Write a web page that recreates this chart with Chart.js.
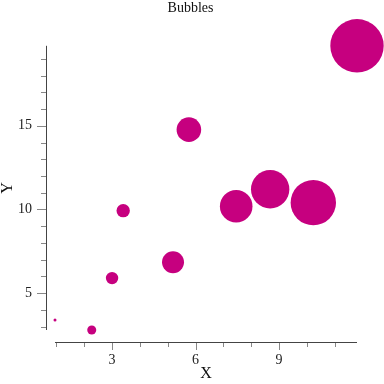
<!DOCTYPE html>
<html>
<head>
<meta charset="utf-8">
<script src="https://cdn.jsdelivr.net/npm/chart.js@4.4.1/dist/chart.umd.min.js"></script>
<style>
  html, body { margin: 0; padding: 0; background: #fff; }
  #box { width: 384px; height: 384px; }
</style>
</head>
<body>
<div id="box"><canvas id="bubbleChart"></canvas></div>
<script>
// data
var xValues = [0.95, 2.27, 3.0, 3.4, 5.19, 5.76, 7.46, 8.68, 10.23, 11.8];
var yValues = [3.39, 2.8, 5.9, 9.93, 6.85, 14.77, 10.19, 11.21, 10.41, 19.78];
var radii   = [1.5, 4.5, 6.2, 6.7, 11, 12.3, 16.3, 19.2, 22.7, 26.7];

// ticks
var xTicks = [1, 2, 3, 4, 5, 6, 7, 8, 9, 10, 11];
var xTickLabels = ['3', '6', '9'];
var yTicks = [3, 4, 5, 6, 7, 8, 9, 10, 11, 12, 13, 14, 15, 16, 17, 18, 19];
var yTickLabels = ['5', '10', '15'];

var chartTitle = 'Bubbles';
var xTitle = 'X';
var yTitle = 'Y';

var magenta = '#c6007f';
var serif = "'Liberation Serif', 'Times New Roman', serif";

// bubble points
var points = [];
for (let i = 0; i < xValues.length; i++) {
  points.push({x: xValues[i], y: yValues[i], r: radii[i]});
}

var xMin = Math.min.apply(null, xValues), xMax = Math.max.apply(null, xValues);
var yMin = Math.min.apply(null, yValues), yMax = Math.max.apply(null, yValues);

// axis lines only span the data, ticks drawn by hand (majors longer)
const axisPlugin = {
  id: 'detachedAxes',
  beforeDatasetsDraw(chart) {
    const ctx = chart.ctx;
    const area = chart.chartArea;
    const xs = chart.scales.x, ys = chart.scales.y;
    ctx.save();
    // tick marks
    ctx.strokeStyle = '#888';
    ctx.lineWidth = 1;
    yTicks.forEach(v => {
      const p = Math.round(ys.getPixelForValue(v)) + 0.5;
      const len = yTickLabels.indexOf(String(v)) >= 0 ? 9 : 5;
      ctx.beginPath();
      ctx.moveTo(area.left - len, p);
      ctx.lineTo(area.left, p);
      ctx.stroke();
    });
    xTicks.forEach(v => {
      const p = Math.round(xs.getPixelForValue(v)) + 0.5;
      const len = xTickLabels.indexOf(String(v)) >= 0 ? 8 : 5;
      ctx.beginPath();
      ctx.moveTo(p, area.bottom);
      ctx.lineTo(p, area.bottom + len);
      ctx.stroke();
    });
    // axis lines
    ctx.strokeStyle = '#444';
    ctx.beginPath();
    ctx.moveTo(area.left + 0.5, ys.getPixelForValue(yMax));
    ctx.lineTo(area.left + 0.5, ys.getPixelForValue(yMin));
    ctx.stroke();
    ctx.beginPath();
    ctx.moveTo(xs.getPixelForValue(xMin), area.bottom + 0.5);
    ctx.lineTo(xs.getPixelForValue(xMax), area.bottom + 0.5);
    ctx.stroke();
    ctx.restore();
  }
};

const ctx = document.getElementById('bubbleChart').getContext('2d');
const myChart = new Chart(ctx, {
  type: 'bubble',
  data: {
    datasets: [{
      data: points,
      backgroundColor: magenta,
      borderWidth: 0,
      hoverBorderWidth: 0,
      clip: false
    }]
  },
  options: {
    responsive: true,
    maintainAspectRatio: false,
    animation: false,
    events: [],
    layout: { autoPadding: false, padding: { left: 15, right: 18, top: 0, bottom: 0 } },
    plugins: {
      legend: { display: false },
      tooltip: { enabled: false },
      title: {
        display: true,
        text: chartTitle,
        color: '#111',
        font: { family: serif, size: 14, weight: 'normal' },
        padding: { top: 0, bottom: 17 }
      }
    },
    scales: {
      x: {
        type: 'linear',
        min: xMin - 0.323,
        max: xMax + 0.323,
        afterFit: s => { s.height = 42; },
        afterBuildTicks: s => { s.ticks = xTicks.map(v => ({value: v})); },
        grid: { display: false, drawTicks: false },
        border: { display: false },
        ticks: {
          autoSkip: false,
          maxRotation: 0,
          padding: 10,
          color: '#222',
          font: { family: serif, size: 14 },
          callback: v => (xTickLabels.indexOf(String(v)) >= 0 ? String(v) : '')
        },
        title: {
          display: true,
          text: xTitle,
          color: '#111',
          font: { family: serif, size: 16 },
          padding: { top: 0, bottom: 1 }
        }
      },
      y: {
        type: 'linear',
        min: yMin - 0.717,
        max: yMax + 0.717,
        afterFit: s => { s.width = 31; },
        afterBuildTicks: s => { s.ticks = yTicks.map(v => ({value: v})); },
        grid: { display: false, drawTicks: false },
        border: { display: false },
        ticks: {
          autoSkip: false,
          padding: 14,
          color: '#222',
          font: { family: serif, size: 14 },
          callback: v => (yTickLabels.indexOf(String(v)) >= 0 ? String(v) : '')
        },
        title: {
          display: true,
          text: yTitle,
          color: '#111',
          font: { family: serif, size: 16 },
          padding: { top: -17, bottom: 0 }
        }
      }
    }
  },
  plugins: [axisPlugin]
});
</script>
</body>
</html>
